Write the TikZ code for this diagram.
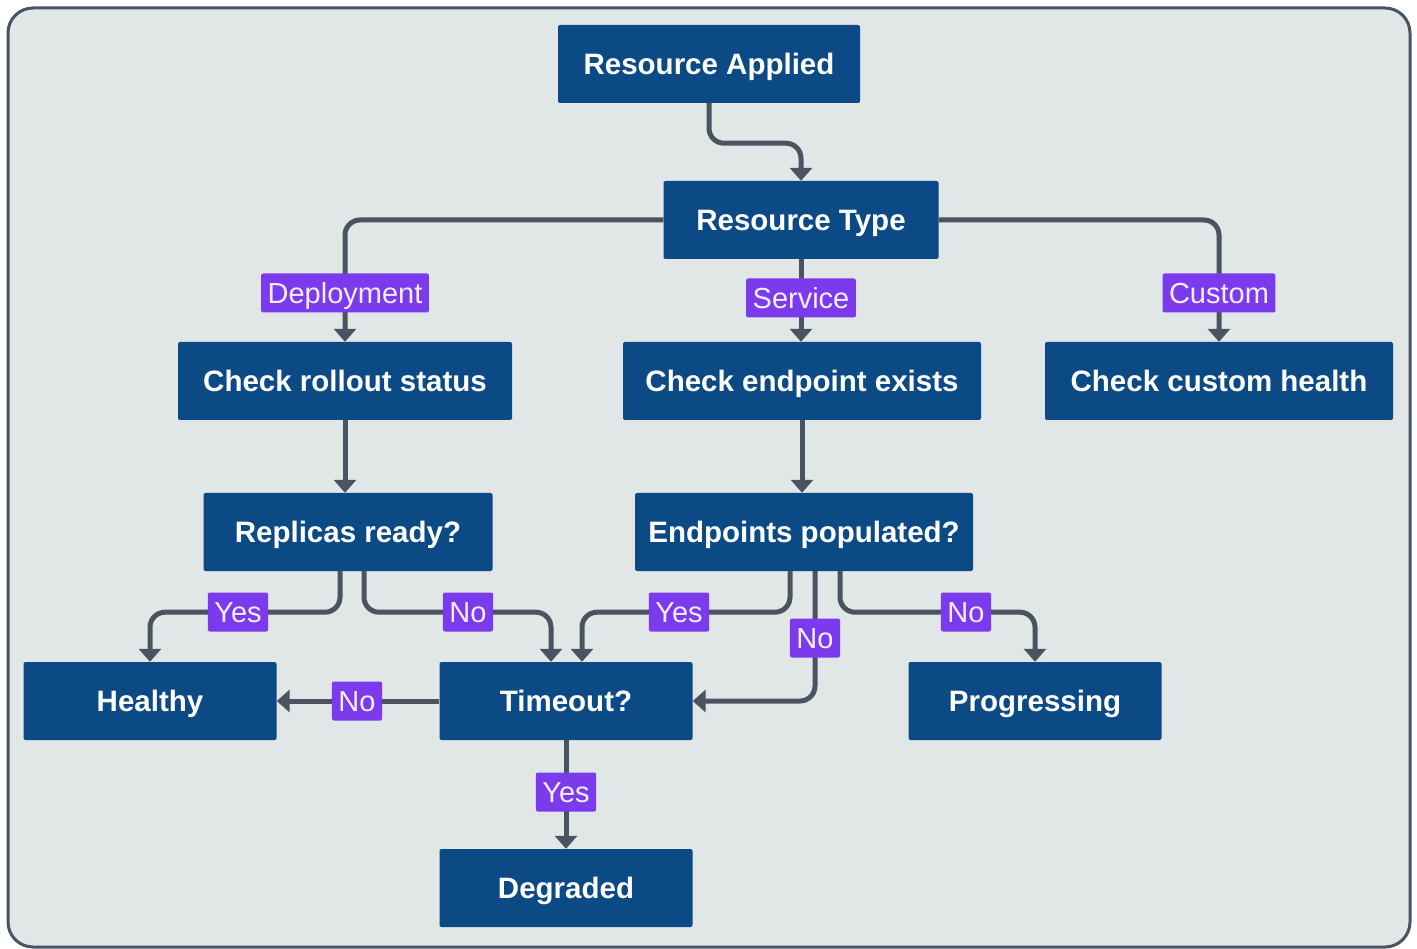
\documentclass[tikz,border=0pt]{standalone}
\usepackage{fontspec}
\setmainfont{Liberation Sans}
\usetikzlibrary{arrows.meta,positioning,calc}

\definecolor{panelbg}{HTML}{E1E6E7}
\definecolor{panelline}{HTML}{4A5361}
\definecolor{boxblue}{HTML}{0C4A86}
\definecolor{tagviolet}{HTML}{7C3AED}
\definecolor{wirecol}{HTML}{4B5360}
\definecolor{tagtext}{HTML}{F3EEFF}

\tikzset{
  stepbox/.style={fill=boxblue, text=white, rounded corners=2pt,
    minimum height=78pt, inner sep=0pt, text height=21pt, text depth=0pt,
    font=\fontsize{29.5}{34}\selectfont\bfseries},
  tag/.style={fill=tagviolet, text=tagtext, rounded corners=2pt,
    minimum height=39pt, inner xsep=6.5pt, inner ysep=0pt,
    text height=20.5pt, text depth=0pt,
    font=\fontsize{29}{34}\selectfont},
  wire/.style={draw=wirecol, line width=5pt, rounded corners=15pt,
    -{Triangle[width=22pt,length=13pt]}},
}

\begin{document}
\begin{tikzpicture}[x=1pt,y=-1pt]
  \useasboundingbox (0,0) rectangle (1417,949);
  \fill[white] (0,0) rectangle (1417,949);
  \path[fill=panelbg, draw=panelline, line width=3pt, rounded corners=25pt]
    (8,8) rectangle (1410,947);

  % process boxes
  \node[stepbox, minimum width=302pt] (ra) at (709,64)  {Resource Applied};
  \node[stepbox, minimum width=275pt] (rt) at (801,220) {Resource Type};
  \node[stepbox, minimum width=334pt] (cr) at (345,381) {Check rollout status};
  \node[stepbox, minimum width=358pt] (ce) at (802,381) {Check endpoint exists};
  \node[stepbox, minimum width=348pt] (cc) at (1219,381) {Check custom health};
  \node[stepbox, minimum width=289pt] (rr) at (348,532) {Replicas ready?};
  \node[stepbox, minimum width=338pt] (ep) at (804,532) {Endpoints populated?};
  \node[stepbox, minimum width=253pt] (he) at (150,701) {Healthy};
  \node[stepbox, minimum width=253pt] (to) at (566,701) {Timeout?};
  \node[stepbox, minimum width=253pt] (pr) at (1035,701) {Progressing};
  \node[stepbox, minimum width=253pt] (dg) at (566,888) {Degraded};

  % connectors
  \draw[wire] (ra.south) -- ++(0,40) -| (rt.north);
  \draw[wire] (rt.west) -| (cr.north);
  \draw[wire] (rt.east) -| (cc.north);
  \draw[wire] (rt.south) -- (rt.south |- ce.north);
  \draw[wire] (cr.south) -- (cr.south |- rr.north);
  \draw[wire] (ce.south) -- (ce.south |- ep.north);
  \draw[wire] ([xshift=-8pt]rr.south) -- ++(0,41) -| (he.north);
  \draw[wire] ([xshift=16pt]rr.south) -- ++(0,41) -| ([xshift=-15pt]to.north);
  \draw[wire] ([xshift=-14pt]ep.south) -- ++(0,41) -| ([xshift=16pt]to.north);
  \draw[wire] ([xshift=11pt]ep.south) |- (to.east);
  \draw[wire] ([xshift=36pt]ep.south) -- ++(0,41) -| (pr.north);
  \draw[wire] (to.west) -- (he.east);
  \draw[wire] (to.south) -- (dg.north);

  % branch labels
  \node[tag] (tdep) at (345,293)  {Deployment};
  \node[tag] (tsvc) at (801,298)  {Service};
  \node[tag] (tcus) at (1219,293) {Custom};
  \node[tag] (tyes1) at (238,612) {Yes};
  \node[tag] (tno1)  at (468,612) {No};
  \node[tag] (tyes2) at (679,612) {Yes};
  \node[tag] (tno2)  at (815,638) {No};
  \node[tag] (tno3)  at (966,612) {No};
  \node[tag] (tno4)  at (357,701) {No};
  \node[tag] (tyes3) at (566,792) {Yes};
\end{tikzpicture}
\end{document}
